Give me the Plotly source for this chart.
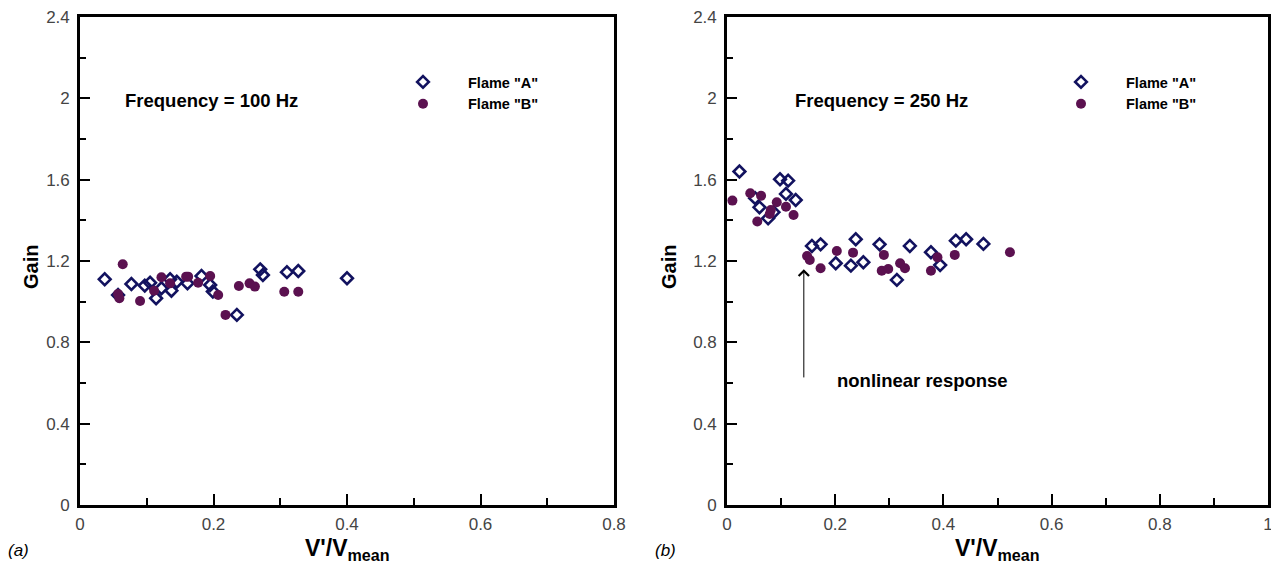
import plotly.graph_objects as go

W, H = 1271, 562

# ---------------- data ----------------
# (a) Frequency = 100 Hz
a100_x = [0.037, 0.057, 0.077, 0.097, 0.105, 0.114, 0.122, 0.135, 0.137, 0.145,
          0.161, 0.182, 0.195, 0.199, 0.235, 0.270, 0.274, 0.310, 0.327, 0.400]
a100_y = [1.110, 1.033, 1.087, 1.079, 1.093, 1.017, 1.066, 1.110, 1.054, 1.098,
          1.090, 1.126, 1.082, 1.050, 0.935, 1.159, 1.131, 1.145, 1.151, 1.115]
b100_x = [0.064, 0.057, 0.059, 0.090, 0.111, 0.122, 0.135, 0.159, 0.162, 0.177,
          0.195, 0.207, 0.218, 0.238, 0.254, 0.262, 0.306, 0.327]
b100_y = [1.184, 1.038, 1.017, 1.003, 1.054, 1.120, 1.090, 1.123, 1.123, 1.093,
          1.126, 1.033, 0.935, 1.077, 1.090, 1.074, 1.049, 1.049]

# (b) Frequency = 250 Hz
a250_x = [0.023, 0.052, 0.060, 0.076, 0.086, 0.098, 0.113, 0.109, 0.127, 0.157,
          0.173, 0.201, 0.229, 0.238, 0.252, 0.282, 0.314, 0.338, 0.377, 0.394,
          0.423, 0.442, 0.474]
a250_y = [1.640, 1.509, 1.464, 1.410, 1.440, 1.602, 1.595, 1.530, 1.500, 1.274,
          1.282, 1.189, 1.177, 1.307, 1.194, 1.282, 1.107, 1.274, 1.243, 1.180,
          1.300, 1.307, 1.284]
b250_x = [0.010, 0.043, 0.063, 0.056, 0.079, 0.081, 0.092, 0.109, 0.123, 0.148,
          0.153, 0.173, 0.203, 0.233, 0.286, 0.290, 0.298, 0.320, 0.329, 0.377,
          0.389, 0.421, 0.523]
b250_y = [1.497, 1.533, 1.521, 1.394, 1.431, 1.451, 1.489, 1.467, 1.426, 1.225,
          1.205, 1.164, 1.249, 1.241, 1.152, 1.230, 1.161, 1.189, 1.164, 1.152,
          1.218, 1.230, 1.243]

series_names = ['<b>Flame "A"</b>', '<b>Flame "B"</b>']
freq_labels = ["<b>Frequency = 100 Hz</b>", "<b>Frequency = 250 Hz</b>"]
panel_labels = ["<i>(a)</i>", "<i>(b)</i>"]

NAVY = "#12125f"
PURPLE = "#5b1150"
FONT = "Liberation Sans"

fig = go.Figure()

def add_panel(xa, ya, ax, ay, bx, by, leg):
    fig.add_trace(go.Scatter(
        x=ax, y=ay, mode="markers", name=series_names[0], legend=leg,
        xaxis=xa, yaxis=ya, cliponaxis=False,
        marker=dict(symbol="diamond-open", size=9, color=NAVY, line=dict(width=2.6, color=NAVY))))
    fig.add_trace(go.Scatter(
        x=bx, y=by, mode="markers", name=series_names[1], legend=leg,
        xaxis=xa, yaxis=ya, cliponaxis=False,
        marker=dict(symbol="circle", size=10, color=PURPLE)))

add_panel("x", "y", a100_x, a100_y, b100_x, b100_y, "legend")
add_panel("x2", "y2", a250_x, a250_y, b250_x, b250_y, "legend2")

top, bot = 17, 505
ydom = [1 - bot / H, 1 - top / H]

tickfont = dict(family=FONT, size=17, color="#444")

def xaxis(dom, rng, anchor):
    return dict(domain=dom, range=rng, anchor=anchor, showline=True, linewidth=2.6,
                linecolor="black", mirror=True, ticks="inside", ticklen=11, tickwidth=2,
                tickcolor="black", dtick=0.2, tick0=0, showgrid=False, zeroline=False,
                tickfont=tickfont, ticklabelstandoff=2, automargin=False,
                ticklabeloverflow="allow",
                minor=dict(dtick=0.1, ticks="inside", ticklen=7, tickwidth=1.5,
                           tickcolor="black", showgrid=False))

def yaxis(anchor):
    return dict(domain=ydom, range=[0, 2.4], anchor=anchor, showline=True, linewidth=2.6,
                linecolor="black", mirror=True, ticks="inside", ticklen=10, tickwidth=2,
                tickcolor="black", dtick=0.4, tick0=0, showgrid=False, zeroline=False,
                tickfont=tickfont, ticklabelstandoff=4, automargin=False,
                ticklabeloverflow="allow",
                minor=dict(dtick=0.2, ticks="inside", ticklen=6, tickwidth=1.5,
                           tickcolor="black", showgrid=False))

legfont = dict(family=FONT, size=14.5, color="black")

fig.update_layout(
    width=W, height=H, margin=dict(l=0, r=0, t=0, b=0, autoexpand=False),
    plot_bgcolor="white", paper_bgcolor="white",
    xaxis=xaxis([80 / W, 614 / W], [0, 0.8], "y"),
    yaxis=yaxis("x"),
    xaxis2=xaxis([727 / W, 1268 / W], [0, 1], "y2"),
    yaxis2=yaxis("x2"),
    legend=dict(x=378 / W, y=1 - 66 / H, xanchor="left", yanchor="top", font=legfont,
                bgcolor="rgba(0,0,0,0)", itemwidth=80, tracegroupgap=0),
    legend2=dict(x=1036 / W, y=1 - 66 / H, xanchor="left", yanchor="top", font=legfont,
                 bgcolor="rgba(0,0,0,0)", itemwidth=80, tracegroupgap=0),
)

ann = []
# frequency labels
ann.append(dict(xref="x", yref="y", x=0.064, y=1.99, xanchor="left", yanchor="middle",
                text=freq_labels[0], showarrow=False, font=dict(family=FONT, size=18.5, color="black")))
ann.append(dict(xref="x2", yref="y2", x=0.122, y=1.99, xanchor="left", yanchor="middle",
                text=freq_labels[1], showarrow=False, font=dict(family=FONT, size=18.5, color="black")))
# axis titles
for xc in [31, 669]:
    ann.append(dict(xref="paper", yref="paper", x=xc / W, y=1 - 267 / H, textangle=-90,
                    text="<b>Gain</b>", showarrow=False, xanchor="center", yanchor="middle",
                    font=dict(family=FONT, size=20, color="black")))
for xc in [347, 997]:
    ann.append(dict(xref="paper", yref="paper", x=xc / W, y=1 - 549 / H,
                    text="<b>V'/V<sub>mean</sub></b>", showarrow=False, xanchor="center",
                    yanchor="middle", font=dict(family=FONT, size=23, color="black")))
# panel labels
for xl, lab in zip([6, 653], panel_labels):
    ann.append(dict(xref="paper", yref="paper", x=xl / W, y=1 - 550 / H, text=lab,
                    showarrow=False, xanchor="left", yanchor="middle",
                    font=dict(family=FONT, size=17, color="black")))
# arrow + nonlinear response
ann.append(dict(xref="x2", yref="y2", x=0.142, y=1.16, axref="x2", ayref="y2",
                ax=0.142, ay=0.62, text="", showarrow=True, arrowhead=4, arrowsize=2,
                arrowwidth=1, arrowcolor="black"))
ann.append(dict(xref="x2", yref="y2", x=0.2, y=0.61, xanchor="left", yanchor="middle",
                text="<b>nonlinear response</b>", showarrow=False,
                font=dict(family=FONT, size=18.5, color="black")))

fig.update_layout(annotations=ann)

fig.write_html("out.html", config={"displayModeBar": False},
               post_script="document.body.style.margin='0';document.body.style.padding='0';")
